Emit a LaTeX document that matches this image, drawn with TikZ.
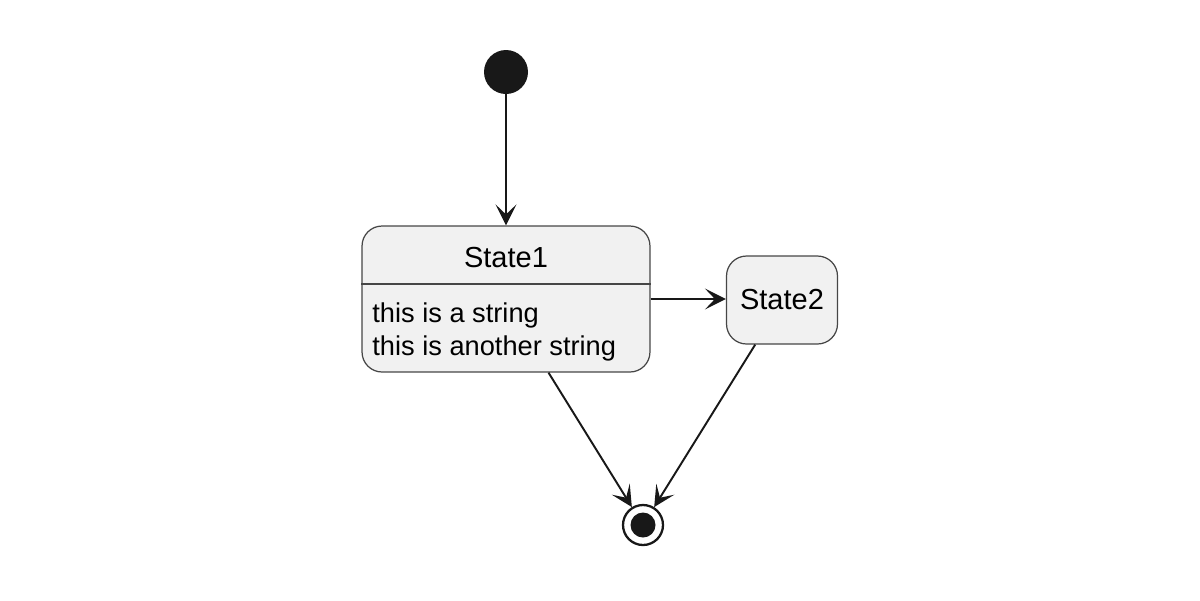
\documentclass[tikz,border=0pt]{standalone}
\usepackage{fontspec}
\setmainfont{Liberation Sans}
\usetikzlibrary{arrows.meta}
\definecolor{boxfill}{HTML}{F1F1F1}
\definecolor{ink}{HTML}{181818}
\begin{document}
\begin{tikzpicture}[x=0.02cm, y=-0.02cm,
    statebox/.style={rectangle, rounded corners=0.4cm, draw=ink!80, fill=boxfill, line width=0.7pt},
    startdot/.style={circle, fill=ink, minimum size=0.88cm, inner sep=0pt},
    enddot/.style={circle, draw=ink, line width=1.3pt, minimum size=0.8cm, inner sep=0pt,
        path picture={\fill[ink] (path picture bounding box.center) circle (0.25cm);}},
    trans/.style={-{Stealth[length=0.42cm, width=0.42cm, inset=0.2cm]}, draw=ink, line width=1.1pt}]
    \useasboundingbox (0,0) rectangle (1200,600);
    % Start and end points
    \node [startdot] (start) at (506,72) {};
    \node [enddot] (final) at (643,525) {};
    % States
    \node [statebox, minimum width=5.76cm, minimum height=2.92cm] (state-1) at (506,299) {};
    \node [font=\fontsize{16.5}{19}\selectfont] (title-1) at (506,258) {State1};
    \draw [ink!80, line width=0.7pt] (state-1.west |- 0,284) -- (state-1.east |- 0,284);
    \node [anchor=west, align=left, inner sep=0pt, font=\fontsize{15.5}{18.8}\selectfont] (body-1) at (372,332) {this is a string\\this is another string};
    \node [statebox, minimum width=2.22cm, minimum height=1.76cm, font=\fontsize{16.5}{19}\selectfont] (state-2) at (782,300) {State2};
    % Transitions
    \draw [trans] (start) -- (state-1);
    \draw [trans] (state-1.east) -- (state-1.east -| state-2.west);
    \draw [trans] (state-1.-60) -- (final);
    \draw [trans] (state-2.-121) -- (final);
\end{tikzpicture}
\end{document}
